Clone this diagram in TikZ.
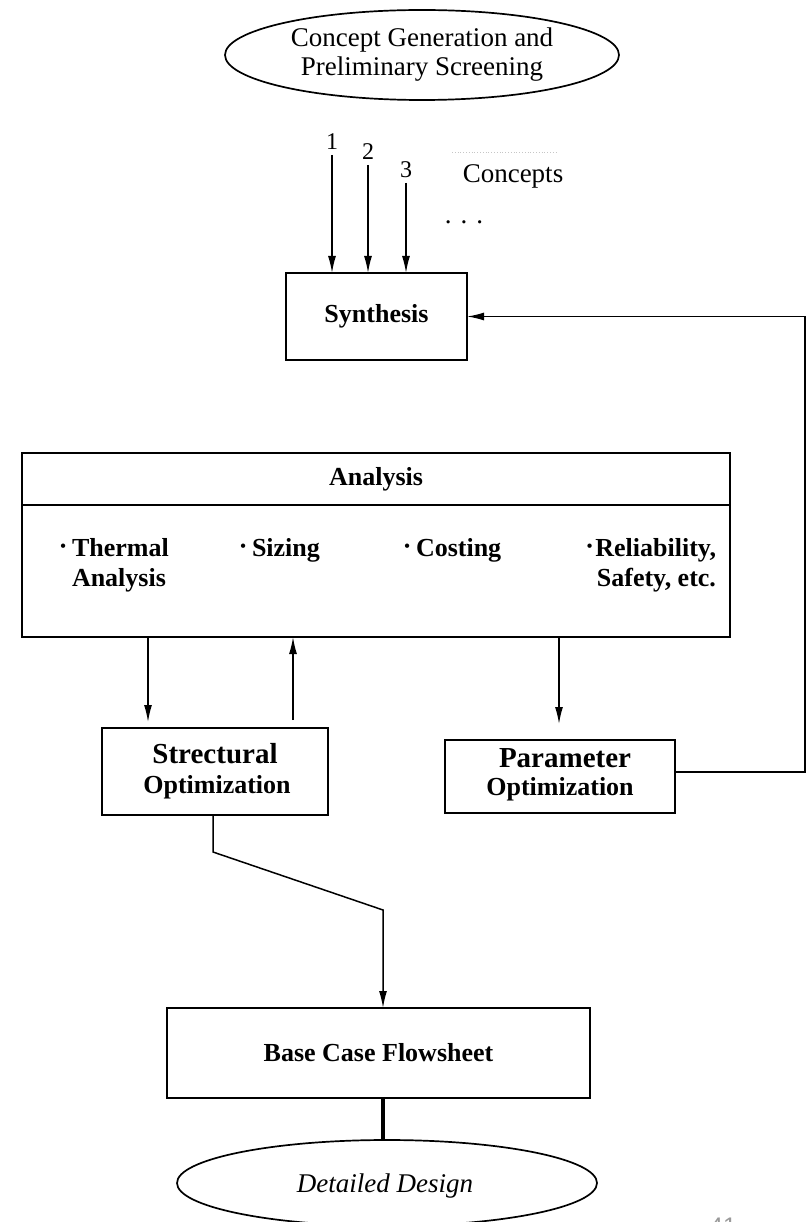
\documentclass[tikz,border=0pt]{standalone}
\usepackage{fontspec}
\setmainfont{Liberation Serif}
\newfontfamily\pagefont{Liberation Sans}
\usetikzlibrary{arrows.meta,shapes.geometric}
\begin{document}
\begin{tikzpicture}[x=1pt,y=-1pt,
  every node/.style={inner sep=0pt,outer sep=0pt},
  box/.style={draw,line width=1.7pt,rectangle},
  oval/.style={draw,line width=1.7pt,ellipse},
  flow/.style={line width=1.5pt,-{Latex[length=17pt,width=8pt]}},
  bfa/.style={font=\fontsize{26}{30}\selectfont\bfseries},
  bfb/.style={font=\fontsize{29}{30}\selectfont\bfseries},
  rm/.style={font=\fontsize{27}{30}\selectfont},
  item/.style={bfa,align=left,anchor=north west},
]
\newcommand{\itembullet}{\raisebox{0.4ex}{\fontsize{16}{16}\selectfont\textbullet}}
\useasboundingbox (0,0) rectangle (807,1222);

% start of the process
\node[oval,minimum width=394,minimum height=90,rm,align=center] (cg) at (422,55)
  {Concept Generation and\\[-1pt]Preliminary Screening};

% numbered concepts
\coordinate (c1) at (332,155);
\coordinate (c2) at (368,165);
\coordinate (c3) at (406,183);
\node[rm,font=\fontsize{24}{26}\selectfont,anchor=south] (n1) at (332,150) {1};
\node[rm,font=\fontsize{24}{26}\selectfont,anchor=south] (n2) at (368,160) {2};
\node[rm,font=\fontsize{24}{26}\selectfont,anchor=south] (n3) at (406,178) {3};
\node[rm] (cc) at (513,176) {Concepts};
\draw[gray!45,line width=0.8pt,dotted] (452,152) coordinate (d1) -- (558,152) coordinate (d2);
\node[rm] (dots) at (464,222) {.\hspace{9pt}.\hspace{9pt}.};

% synthesis
\node[box,minimum width=181,minimum height=87,bfa] (syn) at (376.5,316.5) {Synthesis};
\draw[flow] (c1) -- (syn.north -| c1);
\draw[flow] (c2) -- (syn.north -| c2);
\draw[flow] (c3) -- (syn.north -| c3);

% analysis
\node[box,minimum width=708,minimum height=184] (an) at (376,545) {};
\draw[line width=1.7pt] (an.west |- 0,505) coordinate (dl) -- (an.east |- 0,505) coordinate (dr);
\node[bfa] (ant) at (376,479) {Analysis};
\node[item] (i1) at (72,538) {\llap{\itembullet\hspace{6pt}}Thermal\\Analysis};
\node[item] (i2) at (252,538) {\llap{\itembullet\hspace{6pt}}Sizing};
\node[item] (i3) at (416,538) {\llap{\itembullet\hspace{6pt}}Costing};
\node[bfa,align=right,anchor=north east] (i4) at (716,538) {\llap{\itembullet\hspace{3pt}}Reliability,\\Safety, etc.};

% optimisation loops
\node[box,minimum width=226,minimum height=87] (so) at (215,771.5) {};
\node[bfb] (so1) at (215,754) {Strectural};
\node[bfa] (so2) at (217,787) {Optimization};
\node[box,minimum width=230,minimum height=73] (po) at (560,776.5) {};
\node[bfb] (po1) at (565,758) {Parameter};
\node[bfa] (po2) at (560,789) {Optimization};

\draw[flow,shorten >=6pt] (an.south -| 148,0) -- (so.north -| 148,0);
\draw[flow,shorten <=8pt] (so.north -| 293,0) -- (an.south -| 293,0);
\draw[flow,shorten >=16pt] (an.south -| 559,0) -- (po.north -| 559,0);

\coordinate (fb) at (805,772);
\draw[flow] (po.east |- fb) -- (fb) |- (syn.east);

% base case and detailed design
\node[box,minimum width=423,minimum height=90,bfa] (base) at (378.5,1053) {Base Case Flowsheet};
\node[oval,minimum width=420,minimum height=86] (dd) at (387,1183) {};
\node[rm,font=\fontsize{27}{30}\selectfont\itshape] (ddt) at (385,1186) {Detailed Design};

\coordinate (k1) at (213,852);
\coordinate (k2) at (383,910);
\draw[flow] (so.south -| k1) -- (k1) -- (k2) -- (base.north -| k2);
\draw[line width=4.5pt] (base.south -| k2) -- (dd.north -| k2);

% page number
\node[font=\pagefont\fontsize{24}{26}\selectfont,text=gray!80,anchor=base] (pg) at (723,1234) {41};
\end{tikzpicture}
\end{document}
